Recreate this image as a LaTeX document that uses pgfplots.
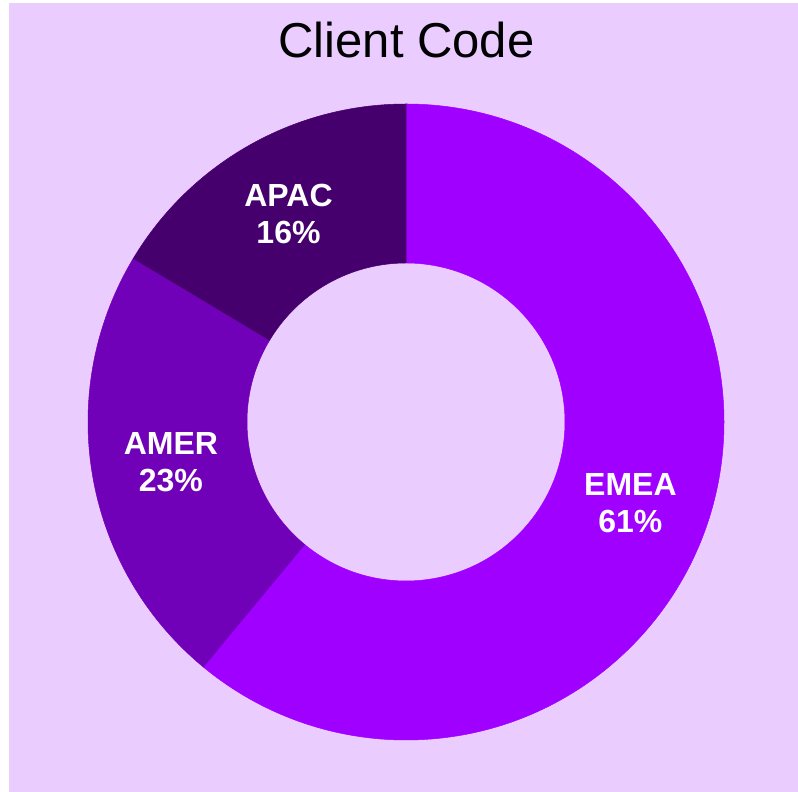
\documentclass[border=0pt]{standalone}
\usepackage{pgfplots}
\usepackage{pgfplotstable}
\pgfplotsset{compat=1.18}
\usepackage{fontspec}
\setmainfont{Liberation Sans}
\definecolor{bgc}{HTML}{EBCCFF}
\definecolor{cEMEA}{HTML}{A000FF}
\definecolor{cAMER}{HTML}{7100B9}
\definecolor{cAPAC}{HTML}{46006E}

\pgfplotstableread{
name value pct color
EMEA 61.0 61 cEMEA
AMER 22.6 23 cAMER
APAC 16.4 16 cAPAC
}\datatable

\begin{document}
\begin{tikzpicture}
\begin{axis}[hide axis, x=1pt, y=1pt, scale only axis,
  xmin=0, xmax=798, ymin=0, ymax=792, clip=false,
  anchor=south west, at={(0,0)}]
\fill[white] (axis cs:0,0) rectangle (axis cs:798,792);
\fill[bgc] (axis cs:9,0) rectangle (axis cs:798,789);
\node[font=\fontsize{49}{58}\selectfont, anchor=base] at (axis cs:406.5,734) {Client Code};
\pgfplotstablegetrowsof{\datatable}
\pgfmathtruncatemacro{\nrows}{\pgfplotsretval-1}
\def\startang{90}
\pgfplotsforeachungrouped \i in {0,...,\nrows}{%
  \pgfplotstablegetelem{\i}{value}\of{\datatable}\let\val\pgfplotsretval
  \pgfplotstablegetelem{\i}{pct}\of{\datatable}\let\pct\pgfplotsretval
  \pgfplotstablegetelem{\i}{name}\of{\datatable}\let\nm\pgfplotsretval
  \pgfplotstablegetelem{\i}{color}\of{\datatable}\let\col\pgfplotsretval
  \pgfmathsetmacro{\endang}{\startang-3.6*\val}%
  \pgfmathsetmacro{\midang}{(\startang+\endang)/2}%
  \pgfmathsetmacro{\xa}{406+318*cos(\startang)}%
  \pgfmathsetmacro{\ya}{370+318*sin(\startang)}%
  \pgfmathsetmacro{\xb}{406+159*cos(\endang)}%
  \pgfmathsetmacro{\yb}{370+159*sin(\endang)}%
  \pgfmathsetmacro{\xm}{406+238.5*cos(\midang)}%
  \pgfmathsetmacro{\ym}{370+238.5*sin(\midang)}%
  \edef\temp{\noexpand\fill[\col, draw=\col, line width=0.5pt] (axis cs:\xa,\ya) arc[start angle=\startang, end angle=\endang, radius=318pt] -- (axis cs:\xb,\yb) arc[start angle=\endang, end angle=\startang, radius=159pt] -- cycle;
   \noexpand\node[text=white, font=\noexpand\fontsize{32}{37}\noexpand\selectfont\noexpand\bfseries, align=center, inner sep=0pt] at (axis cs:\xm,\ym) {\nm\noexpand\\\pct\noexpand\%};}%
  \temp
  \global\let\startang\endang
}
\end{axis}
\end{tikzpicture}
\end{document}
